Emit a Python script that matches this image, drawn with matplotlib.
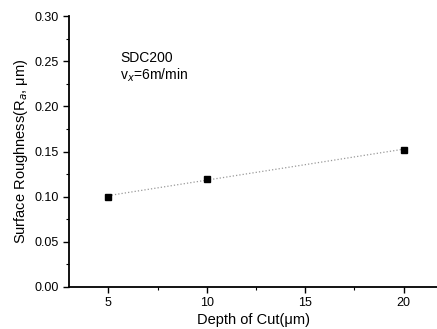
import numpy as np
import matplotlib
matplotlib.use("Agg")
import matplotlib.pyplot as plt
from matplotlib.ticker import MultipleLocator

plt.rcParams['font.family'] = ['Liberation Sans', 'DejaVu Sans']

depth = [5, 10, 20]
roughness = [0.100, 0.120, 0.152]

fig = plt.figure(figsize=(4.37, 3.29), dpi=100)
ax = fig.add_axes([0.158, 0.128, 0.842, 0.823])

# linear fit drawn as faint dotted line
coef = np.polyfit(depth, roughness, 1)
fx = np.array([depth[0], depth[-1]])
ax.plot(fx, np.polyval(coef, fx), linestyle=':', color='#999999', lw=0.9)
ax.plot(depth, roughness, 's', color='black', markersize=4)

ax.set_xlim(3, 21.7)
ax.set_ylim(0, 0.30)
ax.xaxis.set_major_locator(MultipleLocator(5))
ax.xaxis.set_minor_locator(MultipleLocator(2.5))
ax.yaxis.set_major_locator(MultipleLocator(0.05))
ax.yaxis.set_minor_locator(MultipleLocator(0.025))
ax.yaxis.set_major_formatter(plt.FormatStrFormatter('%.2f'))

for s in ['top', 'right']:
    ax.spines[s].set_visible(False)
for s in ['left', 'bottom']:
    ax.spines[s].set_linewidth(1.3)

ax.tick_params(which='major', direction='out', length=4, width=1, labelsize=9)
ax.tick_params(which='minor', direction='out', length=2, width=0.8)

ax.set_xlabel('Depth of Cut(\u03bcm)', fontsize=10.5, labelpad=3)
ax.set_ylabel('Surface Roughness(R$_a$, \u03bcm)', fontsize=10.5, labelpad=3)

ax.text(5.6, 0.249, 'SDC200', fontsize=10)
ax.text(5.6, 0.230, 'v$_x$=6m/min', fontsize=10)

fig.savefig('out.png', dpi=100)
